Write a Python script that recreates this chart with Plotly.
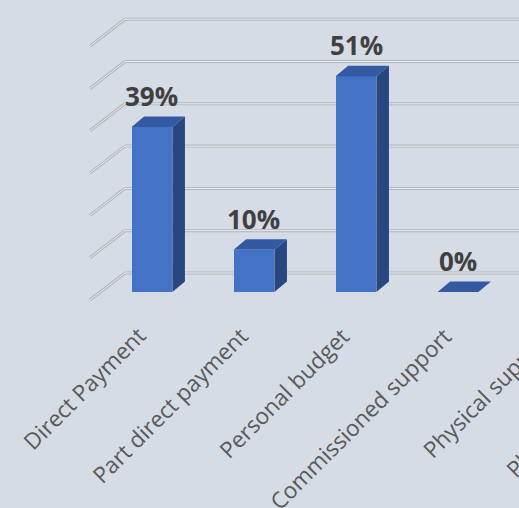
import plotly.graph_objects as go

# Categories and their shares (percent)
categories = ["Direct Payment", "Part direct payment", "Personal budget",
              "Commissioned support", "Physical support", "Physical disabilities"]
values = [39, 10, 51, 0, 0, 0]
grid_values = [0, 10, 20, 30, 40, 50, 60]

BG = "#d6dce5"
FRONT = "#4472c4"
TOP = "#3459a3"
SIDE = "#284780"
LABEL = "#404040"
TICK = "#595959"

# Pseudo-3D projection, expressed in axis units
BAR_W = 0.40        # width of a bar's front face
DEPTH_X = 0.123     # horizontal shift to a bar's back face
DEPTH_Y = 2.5       # vertical shift to a bar's back face (percentage points)
WALL_X0 = -0.265    # left edge of the back wall
WALL_DY = 4.49      # back wall offset above the bar front plane
FLOOR_X0 = -0.608   # front-left corner of the floor
FLOOR_DY = -1.89    # floor front edge offset below the bar front plane

X_RANGE = [-1.49, 3.598]
Y_RANGE = [-4.255, 69.03]

fig = go.Figure()

# Back-wall gridlines with their diagonal returns on the side wall
shapes = []
for g in grid_values:
    for width, color in ((3, "#b0b5bd"), (1, "#eceef1")):
        shapes.append(dict(type="line", xref="x", yref="y", layer="below",
                           x0=WALL_X0, y0=g + WALL_DY, x1=X_RANGE[1] + 2, y1=g + WALL_DY,
                           line=dict(color=color, width=width)))
        shapes.append(dict(type="line", xref="x", yref="y", layer="below",
                           x0=FLOOR_X0, y0=g + FLOOR_DY, x1=WALL_X0, y1=g + WALL_DY,
                           line=dict(color=color, width=width)))

# Right-hand side faces and top faces of the bars
side_x, side_y, top_x, top_y = [], [], [], []
for i, v in enumerate(values):
    x0, x1 = i - BAR_W / 2, i + BAR_W / 2
    side_x += [x1, x1, x1 + DEPTH_X, x1 + DEPTH_X, x1, None]
    side_y += [0, v, v + DEPTH_Y, DEPTH_Y, 0, None]
    top_x += [x0, x1, x1 + DEPTH_X, x0 + DEPTH_X, x0, None]
    top_y += [v, v, v + DEPTH_Y, v + DEPTH_Y, v, None]

fig.add_trace(go.Scatter(x=side_x, y=side_y, mode="lines", fill="toself",
                         fillcolor=SIDE, line=dict(width=0), hoverinfo="skip",
                         showlegend=False))
fig.add_trace(go.Scatter(x=top_x, y=top_y, mode="lines", fill="toself",
                         fillcolor=TOP, line=dict(width=0), hoverinfo="skip",
                         showlegend=False))

# Front faces
fig.add_trace(go.Bar(x=list(range(len(values))), y=values, width=BAR_W,
                     marker=dict(color=FRONT, line=dict(width=0)),
                     showlegend=False))

annotations = []

# Value labels above each bar
for i, v in enumerate(values):
    annotations.append(dict(x=i, y=v, xref="x", yref="y", text=f"{v}%",
                            showarrow=False, xanchor="center", yanchor="bottom",
                            yshift=11,
                            font=dict(family="Open Sans", size=26, color=LABEL,
                                      weight="bold")))

# Slanted category labels under the floor; placed in paper units so that
# the categories running past the right edge are still drawn (and cut off)
span = X_RANGE[1] - X_RANGE[0]
for i, name in enumerate(categories):
    annotations.append(dict(x=(i - X_RANGE[0]) / span, y=0, xref="paper", yref="paper",
                            text=name, showarrow=False, textangle=-45,
                            xanchor="right", yanchor="top", xshift=3, yshift=-8,
                            font=dict(family="Open Sans", size=22.5, color=TICK)))

fig.update_layout(
    width=519, height=508,
    margin=dict(l=0, r=0, t=0, b=198),
    paper_bgcolor=BG, plot_bgcolor=BG,
    shapes=shapes, annotations=annotations,
    bargap=0,
    xaxis=dict(range=X_RANGE, showticklabels=False, showgrid=False,
               zeroline=False, showline=False, ticks=""),
    yaxis=dict(range=Y_RANGE, visible=False, showgrid=False, zeroline=False),
)

fig.write_html("out.html")
